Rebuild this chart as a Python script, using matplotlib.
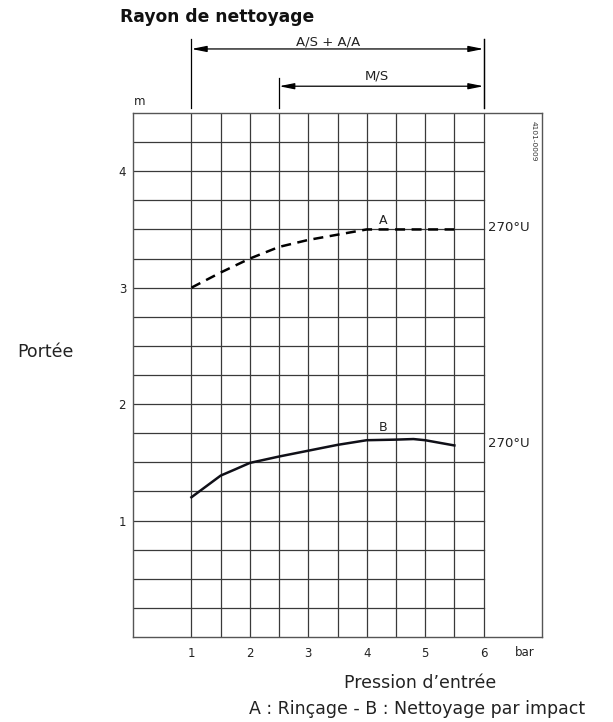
import matplotlib
matplotlib.use("Agg")
import matplotlib.pyplot as plt
import numpy as np

plt.rcParams['font.family'] = ['DejaVu Sans']

# Data
pressure_A = [1.0, 1.5, 2.0, 2.5, 3.0, 3.5, 4.0, 4.5, 5.0, 5.5]
reach_A = [3.0, 3.13, 3.25, 3.35, 3.41, 3.455, 3.5, 3.5, 3.5, 3.5]
pressure_B = [1.0, 1.5, 1.75, 2.0, 2.5, 3.0, 3.5, 4.0, 4.5, 4.8, 5.0, 5.5]
reach_B = [1.2, 1.386, 1.44, 1.495, 1.55, 1.6, 1.65, 1.69, 1.695, 1.70, 1.69, 1.645]
x_ticks = [1, 2, 3, 4, 5, 6]
y_ticks = [1, 2, 3, 4]
range_all = (1, 6)
range_ms = (2.5, 6)

W, H = 613, 722
fig = plt.figure(figsize=(W / 100, H / 100), dpi=100)
ax = fig.add_axes([133 / W, 1 - 637 / H, (542 - 133) / W, (637 - 113) / H])
ax.set_xlim(0, 7)
ax.set_ylim(0, 4.5)

grid_c = '#3a3a3a'
for xv in np.arange(1, 6.01, 0.5):
    ax.plot([xv, xv], [0, 4.5], color=grid_c, lw=0.9, zorder=1)
for yv in np.arange(0.25, 4.26, 0.25):
    ax.plot([0, 6], [yv, yv], color=grid_c, lw=0.9, zorder=1)

for s in ax.spines.values():
    s.set_color('#555555')
    s.set_linewidth(1.0)

ax.plot(pressure_A, reach_A, color='black', lw=1.8, linestyle=(0, (4, 2.6)), zorder=3)
ax.plot(pressure_B, reach_B, color='#101018', lw=1.8, zorder=3)

ax.set_xticks(x_ticks)
ax.set_yticks(y_ticks)
ax.tick_params(length=0, labelsize=8.5, colors='#222222')
ax.tick_params(axis='x', pad=7)
ax.tick_params(axis='y', pad=5)

txt_c = '#222222'
ax.text(4.28, 3.575, 'A', fontsize=9, ha='center', va='center', color=txt_c)
ax.text(4.28, 1.80, 'B', fontsize=9, ha='center', va='center', color=txt_c)
ax.text(6.07, 3.52, '270°U', fontsize=9.5, ha='left', va='center', color=txt_c)
ax.text(6.07, 1.66, '270°U', fontsize=9.5, ha='left', va='center', color=txt_c)
ax.text(6.85, 4.26, '4101-0009', fontsize=5.3, rotation=-90, ha='center', va='center', color='#333333')

ax.text(6.70, -0.135, 'bar', fontsize=8.5, ha='center', va='center', color=txt_c, clip_on=False)
ax.text(0.12, 4.6, 'm', fontsize=8.5, ha='center', va='center', color=txt_c, clip_on=False)

# Range arrows
def hrange(x0, x1, y, ytop, label, xlab, ylab):
    ax.plot([x0, x0], [ytop, 4.54], color='black', lw=0.9, clip_on=False)
    ax.plot([x1, x1], [5.135, 4.54], color='black', lw=0.9, clip_on=False)
    ax.annotate('', xy=(x0, y), xytext=(x1, y), xycoords='data',
                arrowprops=dict(arrowstyle='<|-|>,head_length=0.9,head_width=0.18',
                                color='black', lw=0.9, shrinkA=0, shrinkB=0),
                annotation_clip=False)
    ax.text(xlab, ylab, label, fontsize=9.5,
            ha='center', va='center', color=txt_c, clip_on=False)

hrange(range_all[0], range_all[1], 5.05, 5.135, 'A/S + A/A', 3.34, 5.11)
hrange(range_ms[0], range_ms[1], 4.73, 4.80, 'M/S', 4.18, 4.82)

fig.text(120 / W, 1 - 17 / H, 'Rayon de nettoyage', fontsize=12.3, fontweight='bold',
         ha='left', va='center', color='#111111')
fig.text(45 / W, 1 - 352 / H, 'Portée', fontsize=12.5, ha='center', va='center', color=txt_c)
fig.text(420 / W, 1 - 683 / H, 'Pression d\u2019entrée', fontsize=12.5, ha='center', va='center', color=txt_c)
fig.text(417 / W, 1 - 709 / H, 'A : Rinçage - B : Nettoyage par impact', fontsize=12.5,
         ha='center', va='center', color=txt_c)

fig.savefig('out.png', dpi=100)
